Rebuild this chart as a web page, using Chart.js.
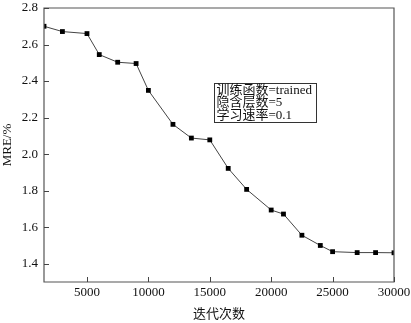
<!DOCTYPE html>
<html><head><meta charset="utf-8">
<script src="https://cdn.jsdelivr.net/npm/chart.js@4/dist/chart.umd.min.js"></script>
<style>html,body{margin:0;padding:0;background:#fff}#w{width:411px;height:323px;position:relative}</style>
</head><body><div id="w"><canvas id="c"></canvas></div>
<script>
const iterations=[1500,3000,5000,6000,7500,9000,10000,12000,13500,15000,16500,18000,20000,21000,22500,24000,25000,27000,28500,30000];
const mre=[2.700,2.671,2.660,2.545,2.503,2.496,2.349,2.163,2.088,2.078,1.922,1.807,1.694,1.672,1.556,1.500,1.466,1.461,1.461,1.460];
const xTicks=[5000,10000,15000,20000,25000,30000];
const yTicks=[1.4,1.6,1.8,2.0,2.2,2.4,2.6,2.8];
const noteLines=['训练函数=trained','隐含层数=5','学习速率=0.1'];
const noteAnchor={x:15350,y:2.39};

const FONT='"Liberation Serif","Times New Roman","Noto Sans CJK SC",serif';

const framePlugin={
  id:'frame',
  afterDraw(chart){
    const ctx=chart.ctx, a=chart.chartArea, x=chart.scales.x, y=chart.scales.y;
    ctx.save();
    ctx.strokeStyle='#555';ctx.lineWidth=1.2;
    ctx.beginPath();
    ctx.moveTo(a.left,a.top);ctx.lineTo(a.right,a.top);ctx.lineTo(a.right,a.bottom);ctx.lineTo(a.left,a.bottom);ctx.closePath();
    ctx.stroke();
    ctx.lineWidth=1;ctx.strokeStyle='#444';
    ctx.beginPath();
    xTicks.forEach(v=>{const px=Math.round(x.getPixelForValue(v))+0.5;ctx.moveTo(px,a.bottom);ctx.lineTo(px,a.bottom-5);});
    yTicks.forEach(v=>{const py=Math.round(y.getPixelForValue(v))+0.5;ctx.moveTo(a.left,py);ctx.lineTo(a.left+5,py);});
    ctx.stroke();
    const bx=Math.round(x.getPixelForValue(noteAnchor.x))+0.5, by=Math.round(y.getPixelForValue(noteAnchor.y))+0.5;
    const bw=102,bh=39;
    ctx.fillStyle='#fff';ctx.fillRect(bx,by,bw,bh);
    ctx.strokeStyle='#333';ctx.strokeRect(bx,by,bw,bh);
    ctx.fillStyle='#111';ctx.font='13px '+FONT;ctx.textBaseline='middle';ctx.textAlign='left';
    noteLines.forEach((t,i)=>ctx.fillText(t,bx+2,by+7+i*12.3));
    ctx.restore();
  }
};

new Chart(document.getElementById('c'),{
  type:'line',
  data:{datasets:[{
    data:iterations.map((v,i)=>({x:v,y:mre[i]})),
    borderColor:'#444',borderWidth:1,tension:0,
    pointStyle:'rect',pointRadius:3.4,pointBackgroundColor:'#000',pointBorderColor:'#000',pointBorderWidth:0
  }]},
  options:{
    responsive:true,maintainAspectRatio:false,animation:false,
    layout:{padding:{top:8,right:17,left:0,bottom:0}},
    plugins:{legend:{display:false},tooltip:{enabled:false}},
    scales:{
      x:{type:'linear',min:1500,max:30000,
        afterBuildTicks:s=>{s.ticks=xTicks.map(v=>({value:v}));},
        afterFit:s=>{s.height=41;s.paddingLeft=0;s.paddingRight=0;},
        grid:{display:false,drawTicks:false},border:{display:false},
        ticks:{padding:3,color:'#111',font:{family:FONT,size:13},maxRotation:0,callback:v=>String(v)},
        title:{display:true,text:'迭代次数',color:'#111',font:{family:FONT,size:13},padding:{top:0,bottom:1}}
      },
      y:{type:'linear',min:1.3,max:2.8,
        afterBuildTicks:s=>{s.ticks=yTicks.map(v=>({value:v}));},
        afterFit:s=>{s.width=44;s.paddingTop=0;s.paddingBottom=0;},
        grid:{display:false,drawTicks:false},border:{display:false},
        ticks:{padding:6,color:'#111',font:{family:FONT,size:13},callback:v=>Number(v).toFixed(1)},
        title:{display:true,text:'MRE/%',color:'#111',font:{family:FONT,size:13},padding:{top:0,bottom:0}}
      }
    }
  },
  plugins:[framePlugin]
});
</script>
</body></html>
